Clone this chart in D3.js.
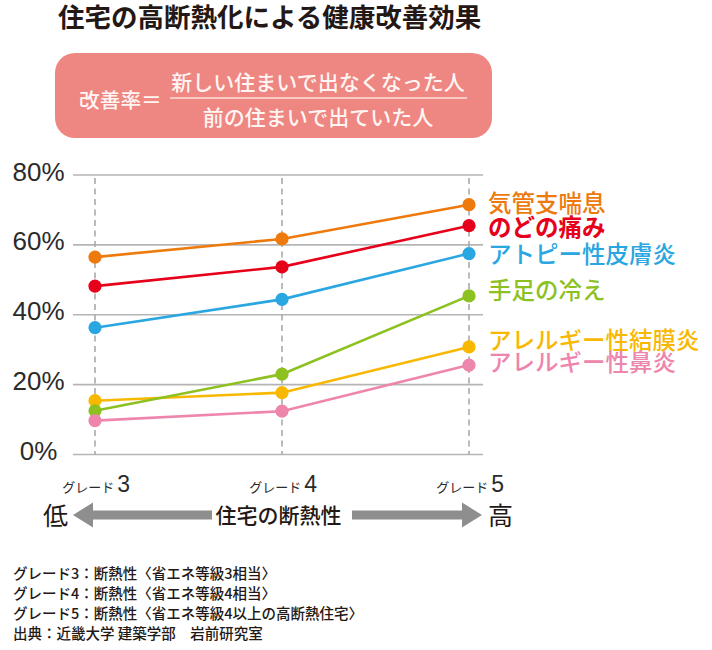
<!DOCTYPE html>
<html>
<head>
<meta charset="utf-8">
<script src="https://cdn.jsdelivr.net/npm/d3@7/dist/d3.min.js"></script>
<style>
  html, body { margin: 0; padding: 0; background: #fff; }
  svg { display: block; }
  .jp { font-family: "Noto Sans CJK JP", "Noto Sans", sans-serif; }
  .num { font-family: "Liberation Sans", Arial, sans-serif; }
</style>
</head>
<body>
<svg id="chart" width="712" height="650"></svg>
<script>
// ---- data ----
const title = "住宅の高断熱化による健康改善効果";
const formulaLabel = "改善率＝";
const numeratorText = "新しい住まいで出なくなった人";
const denominatorText = "前の住まいで出ていた人";
const grades = ["3", "4", "5"];
const gradePrefix = "グレード";
const yTicks = [0, 20, 40, 60, 80];
const seriesNames = ["気管支喘息", "のどの痛み", "アトピー性皮膚炎", "手足の冷え", "アレルギー性結膜炎", "アレルギー性鼻炎"];
const seriesColors = ["#ee7a0d", "#e60019", "#2aa6e0", "#8cc11f", "#f9b800", "#ee85ac"];
const valuesBronchial = [56.5, 61.7, 71.5];
const valuesThroat = [48.2, 53.7, 65.5];
const valuesAtopic = [36.3, 44.4, 57.5];
const valuesColdLimbs = [12.5, 23.0, 45.4];
const valuesConjunctivitis = [15.4, 17.7, 30.8];
const valuesRhinitis = [9.7, 12.4, 25.6];
const axisLabelLow = "低";
const axisLabelHigh = "高";
const axisTitle = "住宅の断熱性";
const footnotes = [
  "グレード3：断熱性〈省エネ等級3相当〉",
  "グレード4：断熱性〈省エネ等級4相当〉",
  "グレード5：断熱性〈省エネ等級4以上の高断熱住宅〉",
  "出典：近畿大学 建築学部　岩前研究室"
];

const seriesValues = [valuesBronchial, valuesThroat, valuesAtopic, valuesColdLimbs, valuesConjunctivitis, valuesRhinitis];
const series = seriesNames.map((name, i) => ({ name, color: seriesColors[i], values: seriesValues[i], idx: i }));

// ---- layout ----
const svg = d3.select("#chart");
const x = d3.scalePoint().domain(grades).range([95, 469]);
const y = d3.scaleLinear().domain([0, 80]).range([454.5, 175]);

// title
svg.append("text").attr("class", "jp")
  .attr("x", 58).attr("y", 26.5)
  .attr("font-size", 26.5).attr("font-weight", 700).attr("fill", "#231815")
  .text(title);

// formula box
svg.append("rect").attr("x", 55).attr("y", 53).attr("width", 437).attr("height", 85)
  .attr("rx", 20).attr("ry", 20).attr("fill", "#ee8682");
svg.append("text").attr("class", "jp").attr("x", 79).attr("y", 108)
  .attr("font-size", 20.7).attr("font-weight", 500).attr("fill", "#fff6f4").text(formulaLabel);
svg.append("text").attr("class", "jp").attr("x", 318).attr("y", 90).attr("text-anchor", "middle")
  .attr("font-size", 21).attr("font-weight", 500).attr("fill", "#fff6f4").text(numeratorText);
svg.append("line").attr("x1", 170).attr("x2", 467).attr("y1", 98).attr("y2", 98)
  .attr("stroke", "#fbe0dc").attr("stroke-width", 1.3);
svg.append("text").attr("class", "jp").attr("x", 318).attr("y", 125).attr("text-anchor", "middle")
  .attr("font-size", 21).attr("font-weight", 500).attr("fill", "#fff6f4").text(denominatorText);

// gridlines
const yAxis = d3.axisLeft(y).tickValues(yTicks).tickSize(0).tickFormat(d => d + "%");
const gy = svg.append("g").attr("transform", "translate(38.5,0)").call(yAxis);
gy.select(".domain").remove();
gy.selectAll("text").attr("class", "num").attr("x", 0).attr("dy", null).attr("dominant-baseline", "auto")
  .attr("text-anchor", "middle").attr("y", 5).attr("font-size", 26).attr("fill", "#2b2b2b");

svg.append("g").selectAll("line").data(yTicks).join("line")
  .attr("x1", 73).attr("x2", 483).attr("y1", d => y(d)).attr("y2", d => y(d))
  .attr("stroke", "#b5b5b5").attr("stroke-width", 1.6);

// vertical dashed lines
svg.append("g").selectAll("line").data(grades).join("line")
  .attr("x1", d => x(d)).attr("x2", d => x(d)).attr("y1", y(80) + 3).attr("y2", y(0))
  .attr("stroke", "#aaaaaa").attr("stroke-width", 1.6).attr("stroke-dasharray", "6,4.5");

// x labels
const xl = svg.append("g").selectAll("text").data(grades).join("text")
  .attr("x", d => x(d) + 35).attr("y", 492).attr("text-anchor", "end").attr("fill", "#2b2b2b");
xl.append("tspan").attr("class", "jp").attr("font-size", 13).text(gradePrefix + " ");
xl.append("tspan").attr("class", "num").attr("font-size", 23).text(d => d);

// lines & points (drawing order matches overlaps in reference)
const drawOrder = [0, 1, 2, 4, 3, 5];
const line = d3.line().x((d, i) => x(grades[i])).y(d => y(d));
const gs = svg.append("g").selectAll("g").data(drawOrder.map(i => series[i])).join("g");
gs.append("path").attr("d", d => line(d.values)).attr("fill", "none")
  .attr("stroke", d => d.color).attr("stroke-width", 2.6);
gs.selectAll("circle").data(d => d.values.map((v, i) => ({ v, i, color: d.color }))).join("circle")
  .attr("cx", d => x(grades[d.i])).attr("cy", d => y(d.v)).attr("r", 6.6).attr("fill", d => d.color);

// series labels
const labelDy = [-2, 1.5, 0, -5.5, -6.5, -3];
svg.append("g").selectAll("text").data(series).join("text").attr("class", "jp")
  .attr("x", 488).attr("y", d => y(d.values[d.values.length - 1]) + labelDy[d.idx] + 9)
  .attr("font-size", 23.5).attr("font-weight", d => d.idx === 1 ? 700 : 500)
  .attr("fill", d => d.color).text(d => d.name);

// arrow axis
const arrowColor = "#8e8e8e";
const ay = 515;
svg.append("rect").attr("x", 90).attr("y", ay - 4.5).attr("width", 122).attr("height", 9).attr("fill", arrowColor);
svg.append("path").attr("d", `M73,${ay} L93,${ay - 12.5} L93,${ay + 12.5} Z`).attr("fill", arrowColor);
svg.append("rect").attr("x", 352).attr("y", ay - 4.5).attr("width", 114).attr("height", 9).attr("fill", arrowColor);
svg.append("path").attr("d", `M482,${ay} L462,${ay - 12.5} L462,${ay + 12.5} Z`).attr("fill", arrowColor);
svg.append("text").attr("class", "jp").attr("x", 43).attr("y", ay + 9.5)
  .attr("font-size", 25).attr("fill", "#231815").text(axisLabelLow);
svg.append("text").attr("class", "jp").attr("x", 488).attr("y", ay + 9.5)
  .attr("font-size", 25).attr("fill", "#231815").text(axisLabelHigh);
svg.append("text").attr("class", "jp").attr("x", 278.5).attr("y", ay + 8).attr("text-anchor", "middle")
  .attr("font-size", 21).attr("font-weight", 500).attr("fill", "#231815").text(axisTitle);

// footnotes
svg.append("g").selectAll("text").data(footnotes).join("text").attr("class", "jp")
  .attr("x", 13).attr("y", (d, i) => 578.5 + i * 20)
  .attr("font-size", 14.5).attr("font-weight", 500).attr("fill", "#231815").text(d => d);
</script>
</body>
</html>
